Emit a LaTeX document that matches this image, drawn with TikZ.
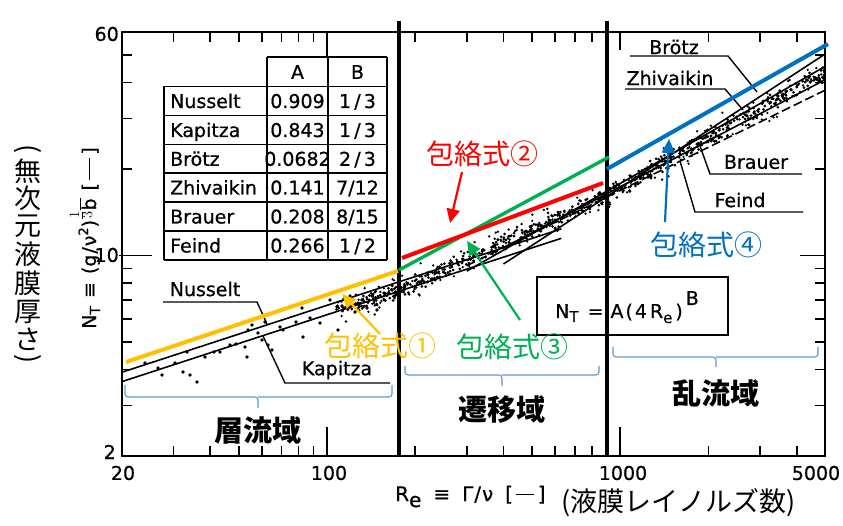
\documentclass[tikz,border=0pt]{standalone}
\usepackage{fontspec}
\usepackage{graphicx}
\setmainfont{DejaVu Sans}[FakeBold=0.6]
\newfontfamily\jp{Noto Sans CJK JP}
\usetikzlibrary{arrows.meta}
\definecolor{cOr}{HTML}{FFC000}
\definecolor{cRd}{HTML}{FF0000}
\definecolor{cGr}{HTML}{00B050}
\definecolor{cBl}{HTML}{0070C0}
\definecolor{cBr}{HTML}{5B9BD5}
\tikzset{
  scan/.style={font=\fontsize{19}{20}\selectfont, inner sep=0pt},
  jpl/.style={font=\jp\fontsize{28}{30}\selectfont, inner sep=0pt},
  jpb/.style={font=\jp\bfseries\fontsize{29}{30}\selectfont, inner sep=0pt},
  jpv/.style={font=\jp\fontsize{27}{28}\selectfont, inner sep=0pt},
  envline/.style={line width=4pt},
  earrow/.style={line width=2.2pt, -{Triangle[length=14pt,width=13pt]}},
  bracel/.style={draw=cBr, line width=1.1pt, rounded corners=3pt},
  leader/.style={line width=1.4pt},
  corr/.style={line width=1.6pt},
  tk/.style={line width=1.7pt},
  divl/.style={line width=3.2pt},
  tbl/.style={line width=1.6pt},
  dot/.style={fill=black},
}
\begin{document}
\begin{tikzpicture}[x=1pt,y=-1pt]
\useasboundingbox (0,0) rectangle (843,526);
\fill[white] (0,0) rectangle (843,526);

% ---------- table ----------
\draw[tbl] (267,57) -- (387,57);
\foreach \yy in {86.5,115.5,144.5,173,202,231,260} \draw[tbl] (164,\yy) -- (387,\yy);
\draw[tbl] (164,86.5) -- (164,260);
\foreach \xx in {267,328,387} \draw[tbl] (\xx,57) -- (\xx,260);
\node[scan] (hA) at (297.5,72) {A};
\node[scan] (hB) at (357.5,72) {B};
\foreach \nm/\va/\vb/\yc [count=\k] in {Nusselt/0.909/{1\,\slash\,3}/101, Kapitza/0.843/{1\,\slash\,3}/130, Brötz/0.0682/{2\,\slash\,3}/158.8, Zhivaikin/0.141/{7\slash 12}/187.5, Brauer/0.208/{8\slash 15}/216.5, Feind/0.266/{1\,\slash\,2}/245.5}{
  \node[scan, anchor=base west] (tn\k) at (170,\yc+7) {\nm};
  \node[scan, anchor=base] (ta\k) at (297.5,\yc+7) {\va};
  \node[scan, anchor=base] (tb\k) at (357.5,\yc+7) {\vb};
}

% ---------- frame and ticks ----------
\draw[line width=2pt] (122,32) rectangle (825,456);
\foreach \r in {30,40,50,60,70,80,90,200,300,400,500,600,700,800,900,2000,3000,4000}{
  \draw[tk] ({122+293.2*log10(\r/20)},456) -- ++(0,-10);
  \draw[tk] ({122+293.2*log10(\r/20)},32) -- ++(0,10);
}
\draw[tk] (327,456) -- ++(0,-29);
\draw[tk] (620.1,456) -- ++(0,-29);
\draw[tk] (327,32) -- (327,57);
\draw[tk] (620.1,32) -- ++(0,18);
\foreach \n in {3,4,5,6,7,8,9,20,30,40,50}{
  \draw[tk] (122,{456-287*log10(\n/2)}) -- ++(10,0);
  \draw[tk] (825,{456-287*log10(\n/2)}) -- ++(-10,0);
}
\draw[tk] (119,255.4) -- (152,255.4);
\draw[tk] (825,255.4) -- ++(-25,0);

% ---------- tick labels ----------
\node[scan, anchor=east] (y60) at (119,34) {60};
\node[scan, anchor=east] (y10) at (119,255) {10};
\node[scan, anchor=east] (y2) at (116,452) {2};
\node[scan] (x20) at (123,473) {20};
\node[scan] (x100) at (329,473) {100};
\node[scan] (x1000) at (623,473) {1000};
\node[scan] (x5000) at (816,473) {5000};

% ---------- correlation lines ----------
\coordinate (nu1) at (122,372.2); \coordinate (nu2) at (561.3,228.9);
\coordinate (ka1) at (122,381.6); \coordinate (ka2) at (561.3,238.3);
\coordinate (br1) at (503.5,264.0); \coordinate (br2) at (825,54.1);
\coordinate (zh1) at (466.8,271.1); \coordinate (zh2) at (825,66.5);
\coordinate (ba1) at (503.5,247.7); \coordinate (ba2) at (825,79.8);
\coordinate (fe1) at (466.8,265.6); \coordinate (fe2) at (825,90.2);
\draw[corr] (nu1) -- (nu2);
\draw[corr] (ka1) -- (ka2);
\draw[corr] (br1) -- (br2);
\draw[corr] (zh1) -- (zh2);
\draw[corr] (ba1) -- (ba2);
\draw[corr, dash pattern=on 9pt off 4pt] (fe1) -- (fe2);

% ---------- data points ----------
\foreach \px/\py in {145/363,162/375,183/372,190/375,197/382,187/352,220/352,230/345,245/347,247/357,248/330,252/325,258/333,262/340,265/322,268/345,272/350,283/330,303/337,302/308,320/323,338/330,355/312,367/308,377/310,330/300,342/306,350/296,362/300,372/296,384/293,392/290,310/318,296/322,280/327,236/344,214/352,205/357,175/363,158/368}
  \fill[dot] (\px,\py) circle (1.8);
\pgfmathsetseed{4242}
\foreach \i in {1,...,650}{
  \pgfmathsetmacro\xx{335+490*rnd}
  \pgfmathsetmacro\yc{(\xx<399) ? (377-0.3141*(\xx-122)) : ((\xx<607) ? (290-0.457*(\xx-399)) : (195-0.564*(\xx-607)))}
  \pgfmathsetmacro\yy{\yc+5*(rand+rand)}
  \fill[dot] (\xx,\yy) circle (1.5);
}
\foreach \i in {1,...,220}{
  \pgfmathsetmacro\xx{340+485*rnd}
  \pgfmathsetmacro\yc{(\xx<399) ? (377-0.3141*(\xx-122)) : ((\xx<607) ? (290-0.457*(\xx-399)) : (195-0.564*(\xx-607)))}
  \pgfmathsetmacro\yy{\yc+10*(rand+rand)}
  \fill[dot] (\xx,\yy) circle (1.3);
}

% ---------- leader labels ----------
\node[scan] (lNu) at (205,289) {Nusselt};
\draw[leader] (163,302) -- (257,302) -- (267,324);
\node[scan] (lKa) at (337,370) {Kapitza};
\draw[leader] (390,383) -- (285,383) -- (263,336);
\node[scan] (lBr) at (674,47) {Brötz};
\draw[leader] (630,56) -- (728,56) -- (757,92);
\node[scan] (lZh) at (670,78) {Zhivaikin};
\draw[leader] (625,89) -- (725,89) -- (743,110);
\node[scan] (lBa) at (756,162) {Brauer};
\draw[leader] (802,174) -- (710,174) -- (700,146);
\node[scan] (lFe) at (740,200) {Feind};
\draw[leader] (803,212) -- (695,212) -- (680,161);

% ---------- formula box ----------
\node[draw, line width=1.6pt, minimum width=191pt, minimum height=58pt, inner sep=0pt] (legend) at (632.5,306) {};
\node[scan, anchor=base west] (legtxt) at (555,318) {N\raisebox{-4pt}{\fontsize{15}{15}\selectfont T}\hspace{9pt}=\hspace{7pt}A\hspace{2pt}(\hspace{2pt}4\hspace{3pt}R\raisebox{-5pt}{\fontsize{15}{15}\selectfont e}\hspace{3pt})\hspace{3pt}\raisebox{13pt}{B}};

% ---------- region dividers ----------
\draw[divl] (399,21) -- (399,456);
\draw[divl] (607,21) -- (607,456);

% ---------- envelope lines ----------
\coordinate (o1) at (126,362); \coordinate (o2) at (398,271);
\coordinate (r1) at (402,258); \coordinate (r2) at (603,183);
\coordinate (g1) at (399,270); \coordinate (g2) at (609,157);
\coordinate (b1) at (607,169); \coordinate (b2) at (828,44);
\draw[envline, cOr] (o1) -- (o2);
\draw[envline, cGr, line width=3.4pt] (g1) -- (g2);
\draw[envline, cRd] (r1) -- (r2);
\draw[envline, cBl] (b1) -- (b2);

% ---------- envelope labels and arrows ----------
\node[jpl, text=cRd] (e2) at (482,154) {包絡式②};
\node[jpl, text=cOr] (e1) at (380,346) {包絡式①};
\node[jpl, text=cGr] (e3) at (512,347) {包絡式③};
\node[jpl, text=cBl] (e4) at (706,245) {包絡式④};
\coordinate (a2s) at (462,172); \coordinate (a2e) at (450,223);
\coordinate (a1s) at (380,334); \coordinate (a1e) at (342,294);
\coordinate (a3s) at (520,320); \coordinate (a3e) at (467,241);
\coordinate (a4s) at (665,222); \coordinate (a4e) at (669,139);
\draw[earrow, cRd] (a2s) -- (a2e);
\draw[earrow, cOr] (a1s) -- (a1e);
\draw[earrow, cGr] (a3s) -- (a3e);
\draw[earrow, cBl] (a4s) -- (a4e);

% ---------- braces ----------
\draw[bracel] (125,385) |- (258,397) -- (258,408);
\draw[bracel] (392,385) |- (258,397);
\draw[bracel] (405,366) |- (502,375) -- (502,386);
\draw[bracel] (599,366) |- (502,375);
\draw[bracel] (613,347) |- (716,357) -- (716,367);
\draw[bracel] (818,347) |- (716,357);

% ---------- region labels ----------
\node[jpb] (rg1) at (258,430) {層流域};
\node[jpb] (rg2) at (502,410) {遷移域};
\node[jpb] (rg3) at (716,393) {乱流域};

% ---------- axis titles ----------
\node[scan, anchor=base west, font=\fontsize{20}{20}\selectfont] (xlab) at (395,501) {R\raisebox{-6pt}{e}\hspace{12pt}≡\hspace{12pt}Γ\hspace{1pt}/\hspace{1pt}ν\hspace{12pt}[\,\rule[6pt]{18pt}{1.5pt}\,]};
\node[jpl, font=\jp\fontsize{27}{28}\selectfont, anchor=west] (xjp) at (561,503) {(液膜レイノルズ数)};
\node[scan, rotate=90, font=\fontsize{19}{20}\selectfont] (ylab) at (85,238) {N\raisebox{-4pt}{\fontsize{14}{14}\selectfont T}\hspace{8pt}≡\hspace{8pt}(g\hspace{1pt}/\hspace{1pt}ν\raisebox{8pt}{\fontsize{13}{13}\selectfont 2})\raisebox{10pt}{$\frac{1}{3}$}$\overline{\hbox{b}}$\hspace{8pt}[\,\rule[6pt]{22pt}{1.5pt}\,]};
\node[jpv, rotate=-90] (yp1) at (28,149) {(};
\node[jpv] (yc1) at (28,171) {無};
\node[jpv] (yc2) at (28,198) {次};
\node[jpv] (yc3) at (28,226) {元};
\node[jpv] (yc4) at (28,254) {液};
\node[jpv] (yc5) at (28,283) {膜};
\node[jpv] (yc6) at (28,312) {厚};
\node[jpv] (yc7) at (28,339) {さ};
\node[jpv, rotate=-90] (yp2) at (28,359) {)};
\end{tikzpicture}
\end{document}
